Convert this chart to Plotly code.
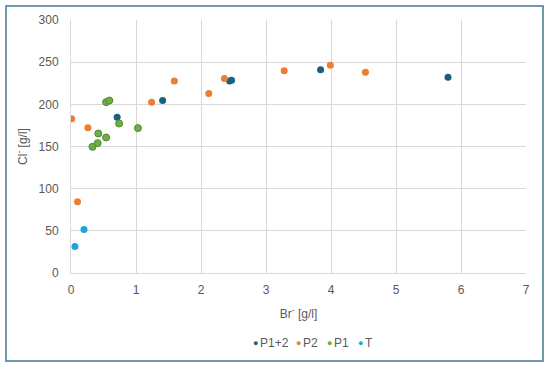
import plotly.graph_objects as go

# Data (Br- [g/l], Cl- [g/l])
p12_x = [0.71, 1.41, 2.44, 2.47, 3.84, 5.80]
p12_y = [184.8, 204.5, 227.8, 228.7, 240.9, 232.2]

p2_x = [0.01, 0.10, 0.26, 1.24, 1.59, 2.12, 2.36, 3.28, 3.99, 4.53]
p2_y = [183.0, 84.5, 172.2, 202.6, 227.8, 212.8, 230.6, 239.7, 246.4, 238.1]

p1_x = [0.33, 0.41, 0.42, 0.54, 0.54, 0.59, 0.74, 1.03]
p1_y = [149.6, 154.0, 165.4, 160.7, 202.6, 204.5, 177.3, 171.8]

t_x = [0.06, 0.20]
t_y = [31.5, 51.7]

series_names = ["P1+2", "P2", "P1", "T"]
series_colors = ["#1b5e80", "#ED7D31", "#70AD47", "#1ea3dc"]

W, H = 550, 371
L, R, T, B = 71, 24, 20, 98
pw, ph = W - L - R, H - T - B

def px2paper_x(px):
    return (px - L) / pw

def py2paper_y(py):
    return (H - B - py) / ph

fig = go.Figure()
data = [(p12_x, p12_y), (p2_x, p2_y), (p1_x, p1_y), (t_x, t_y)]
for (xs, ys), name, col in zip(data, series_names, series_colors):
    line = dict(width=1, color="#4e8a30") if name == "P1" else dict(width=0)
    fig.add_trace(go.Scatter(x=xs, y=ys, mode="markers", name=name,
                             marker=dict(size=7, color=col, line=line)))

fig.update_layout(
    width=W, height=H,
    margin=dict(l=L, r=R, t=T, b=B, autoexpand=False),
    paper_bgcolor="white", plot_bgcolor="white",
    font=dict(family="Arial, Liberation Sans, sans-serif", size=12, color="#595959"),
    showlegend=False,
    xaxis=dict(range=[0, 7], dtick=1, showgrid=True, gridcolor="#d9d9d9", gridwidth=1,
               zeroline=False, showline=True, linecolor="#d9d9d9", ticks="",
               automargin=False, tickfont=dict(size=12, color="#595959"),
               ticklabelstandoff=6,
               title=dict(text="Br<sup>-</sup> [g/l]", standoff=13, font=dict(size=12, color="#595959"))),
    yaxis=dict(range=[0, 300], dtick=50, showgrid=True, gridcolor="#d9d9d9", gridwidth=1,
               zeroline=False, showline=True, linecolor="#d9d9d9", ticks="",
               automargin=False, tickfont=dict(size=12, color="#595959"),
               ticklabelstandoff=9,
               title=dict(text="Cl<sup>-</sup> [g/l]", standoff=8, font=dict(size=12, color="#595959"))),
)

# Legend drawn as annotations (compact, like the reference)
legend_dot_px = [255, 298, 329, 360]
legend_y = py2paper_y(343)
for name, col, dpx in zip(series_names, series_colors, legend_dot_px):
    fig.add_annotation(xref="paper", yref="paper", x=px2paper_x(dpx), y=legend_y,
                       text="●", showarrow=False, xanchor="center", yanchor="middle",
                       font=dict(size=9, color=col))
    fig.add_annotation(xref="paper", yref="paper", x=px2paper_x(dpx + 3), y=legend_y,
                       text=name, showarrow=False, xanchor="left", yanchor="middle",
                       font=dict(size=12, color="#595959"))

fig.add_shape(type="rect", xref="paper", yref="paper",
              x0=px2paper_x(6), x1=px2paper_x(543), y0=py2paper_y(361), y1=py2paper_y(6),
              line=dict(color="#3f7a90", width=1.5), fillcolor="rgba(0,0,0,0)", layer="below")

fig.write_html("out.html", config={"displayModeBar": False},
               post_script="document.body.style.margin='0';")
